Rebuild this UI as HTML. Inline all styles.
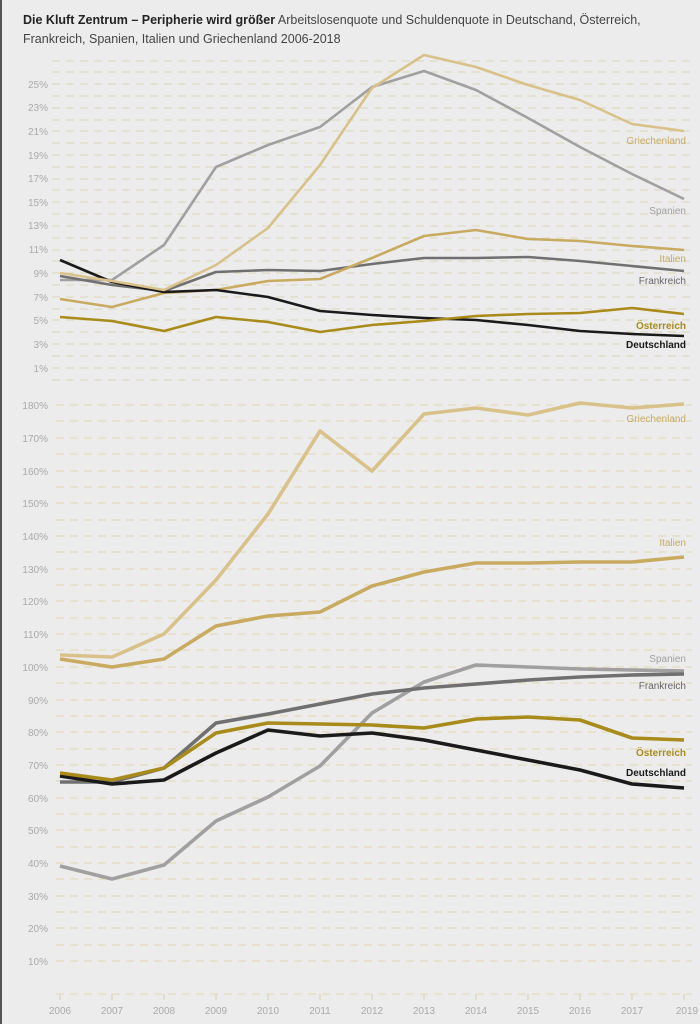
<!DOCTYPE html>
<html><head><meta charset="utf-8"><style>
body{margin:0;background:#ececec;}
svg{display:block;font-family:"Liberation Sans",sans-serif;}
</style></head><body>
<svg width="700" height="1024" viewBox="0 0 700 1024">
<rect width="700" height="1024" fill="#ececec"/>
<rect x="0" y="0" width="2" height="1024" fill="#555"/>
<text x="23" y="24" font-size="12.5" fill="#222"><tspan font-weight="bold">Die Kluft Zentrum – Peripherie wird größer</tspan><tspan fill="#444"> Arbeitslosenquote und Schuldenquote in Deutschand, Österreich,</tspan></text>
<text x="23" y="43" font-size="12.5" fill="#444">Frankreich, Spanien, Italien und Griechenland 2006-2018</text>
<g stroke="#dcd3b8" stroke-width="1" stroke-dasharray="8,6" fill="none">
<line x1="52" y1="61" x2="692" y2="61"/><line x1="52" y1="72" x2="692" y2="72"/>
<line x1="52" y1="84" x2="692" y2="84"/><line x1="52" y1="96" x2="692" y2="96"/>
<line x1="52" y1="108" x2="692" y2="108"/><line x1="52" y1="120" x2="692" y2="120"/>
<line x1="52" y1="131" x2="692" y2="131"/><line x1="52" y1="143" x2="692" y2="143"/>
<line x1="52" y1="155" x2="692" y2="155"/><line x1="52" y1="167" x2="692" y2="167"/>
<line x1="52" y1="179" x2="692" y2="179"/><line x1="52" y1="190" x2="692" y2="190"/>
<line x1="52" y1="202" x2="692" y2="202"/><line x1="52" y1="214" x2="692" y2="214"/>
<line x1="52" y1="226" x2="692" y2="226"/><line x1="52" y1="238" x2="692" y2="238"/>
<line x1="52" y1="250" x2="692" y2="250"/><line x1="52" y1="261" x2="692" y2="261"/>
<line x1="52" y1="273" x2="692" y2="273"/><line x1="52" y1="285" x2="692" y2="285"/>
<line x1="52" y1="297" x2="692" y2="297"/><line x1="52" y1="309" x2="692" y2="309"/>
<line x1="52" y1="320" x2="692" y2="320"/><line x1="52" y1="332" x2="692" y2="332"/>
<line x1="52" y1="344" x2="692" y2="344"/><line x1="52" y1="356" x2="692" y2="356"/>
<line x1="52" y1="368" x2="692" y2="368"/><line x1="52" y1="380" x2="692" y2="380"/>
</g>
<g stroke="#e2d6b0" stroke-width="1" stroke-dasharray="8,6" fill="none">
<line x1="56" y1="405" x2="692" y2="405"/><line x1="56" y1="421" x2="692" y2="421"/>
<line x1="56" y1="438" x2="692" y2="438"/><line x1="56" y1="454" x2="692" y2="454"/>
<line x1="56" y1="471" x2="692" y2="471"/><line x1="56" y1="487" x2="692" y2="487"/>
<line x1="56" y1="503" x2="692" y2="503"/><line x1="56" y1="520" x2="692" y2="520"/>
<line x1="56" y1="536" x2="692" y2="536"/><line x1="56" y1="552" x2="692" y2="552"/>
<line x1="56" y1="569" x2="692" y2="569"/><line x1="56" y1="585" x2="692" y2="585"/>
<line x1="56" y1="601" x2="692" y2="601"/><line x1="56" y1="618" x2="692" y2="618"/>
<line x1="56" y1="634" x2="692" y2="634"/><line x1="56" y1="650" x2="692" y2="650"/>
<line x1="56" y1="667" x2="692" y2="667"/><line x1="56" y1="683" x2="692" y2="683"/>
<line x1="56" y1="700" x2="692" y2="700"/><line x1="56" y1="716" x2="692" y2="716"/>
<line x1="56" y1="732" x2="692" y2="732"/><line x1="56" y1="749" x2="692" y2="749"/>
<line x1="56" y1="765" x2="692" y2="765"/><line x1="56" y1="781" x2="692" y2="781"/>
<line x1="56" y1="798" x2="692" y2="798"/><line x1="56" y1="814" x2="692" y2="814"/>
<line x1="56" y1="830" x2="692" y2="830"/><line x1="56" y1="847" x2="692" y2="847"/>
<line x1="56" y1="863" x2="692" y2="863"/><line x1="56" y1="879" x2="692" y2="879"/>
<line x1="56" y1="896" x2="692" y2="896"/><line x1="56" y1="912" x2="692" y2="912"/>
<line x1="56" y1="928" x2="692" y2="928"/><line x1="56" y1="945" x2="692" y2="945"/>
<line x1="56" y1="961" x2="692" y2="961"/><line x1="56" y1="994" x2="692" y2="994"/>
</g>
<g stroke="#d8cfb0" stroke-width="1">
<line x1="60" y1="994" x2="60" y2="1000"/><line x1="112" y1="994" x2="112" y2="1000"/><line x1="164" y1="994" x2="164" y2="1000"/><line x1="216" y1="994" x2="216" y2="1000"/><line x1="268" y1="994" x2="268" y2="1000"/><line x1="320" y1="994" x2="320" y2="1000"/><line x1="372" y1="994" x2="372" y2="1000"/><line x1="424" y1="994" x2="424" y2="1000"/><line x1="476" y1="994" x2="476" y2="1000"/><line x1="528" y1="994" x2="528" y2="1000"/><line x1="580" y1="994" x2="580" y2="1000"/><line x1="632" y1="994" x2="632" y2="1000"/><line x1="684" y1="994" x2="684" y2="1000"/>
</g>
<g font-size="10" fill="#aaa" text-anchor="end">
<text x="48" y="88">25%</text><text x="48" y="111">23%</text><text x="48" y="135">21%</text><text x="48" y="159">19%</text><text x="48" y="182">17%</text><text x="48" y="206">15%</text><text x="48" y="229">13%</text><text x="48" y="253">11%</text><text x="48" y="277">9%</text><text x="48" y="301">7%</text><text x="48" y="324">5%</text><text x="48" y="348">3%</text><text x="48" y="372">1%</text>
<text x="48" y="409">180%</text><text x="48" y="442">170%</text><text x="48" y="475">160%</text><text x="48" y="507">150%</text><text x="48" y="540">140%</text><text x="48" y="573">130%</text><text x="48" y="605">120%</text><text x="48" y="638">110%</text><text x="48" y="671">100%</text><text x="48" y="704">90%</text><text x="48" y="736">80%</text><text x="48" y="769">70%</text><text x="48" y="802">60%</text><text x="48" y="834">50%</text><text x="48" y="867">40%</text><text x="48" y="900">30%</text><text x="48" y="932">20%</text><text x="48" y="965">10%</text>
</g>
<g font-size="10" fill="#aaa" text-anchor="middle">
<text x="60" y="1014">2006</text><text x="112" y="1014">2007</text><text x="164" y="1014">2008</text><text x="216" y="1014">2009</text><text x="268" y="1014">2010</text><text x="320" y="1014">2011</text><text x="372" y="1014">2012</text><text x="424" y="1014">2013</text><text x="476" y="1014">2014</text><text x="528" y="1014">2015</text><text x="580" y="1014">2016</text><text x="632" y="1014">2017</text><text x="687" y="1014">2019</text>
</g>
<g fill="none" stroke-width="2.6" stroke-linejoin="round">
<polyline stroke="#a0a0a0" points="60,280 112,280 164,245 216,167 268,145 320,127 372,87 424,71 476,90 528,118 580,147 632,174 684,199"/>
<polyline stroke="#707070" points="60,276 112,285 164,291 216,272 268,270 320,271 372,264 424,258 476,258 528,257 580,261 632,266 684,271"/>
<polyline stroke="#c8aa60" points="60,299 112,307 164,293 216,290 268,281 320,279 372,258 424,236 476,230 528,239 580,241 632,246 684,250"/>
<polyline stroke="#1a1a1a" points="60,260 112,282 164,292 216,290 268,297 320,311 372,315 424,318 476,320 528,325 580,331 632,334 684,336"/>
<polyline stroke="#a88b1a" points="60,317 112,321 164,331 216,317 268,322 320,332 372,325 424,321 476,316 528,314 580,313 632,308 684,314"/>
<polyline stroke="#d9c28a" points="60,273 112,281 164,290 216,265 268,228 320,165 372,88 424,55 476,67 528,85 580,100 632,124 684,131"/>
</g>
<g fill="none" stroke-width="3.6" stroke-linejoin="round">
<polyline stroke="#a0a0a0" points="60,866 112,879 164,865 216,821 268,797 320,766 372,713 424,682 476,665 528,667 580,669 632,670 684,671"/>
<polyline stroke="#707070" points="60,782 112,782 164,768 216,723 268,714 320,704 372,694 424,688 476,684 528,680 580,677 632,675 684,674"/>
<polyline stroke="#1a1a1a" points="60,776 112,784 164,780 216,753 268,730 320,736 372,733 424,740 476,750 528,760 580,770 632,784 684,788"/>
<polyline stroke="#a88b1a" points="60,773 112,780 164,768 216,733 268,723 320,724 372,725 424,728 476,719 528,717 580,720 632,738 684,740"/>
<polyline stroke="#c8aa60" points="60,659 112,667 164,659 216,626 268,616 320,612 372,586 424,572 476,563 528,563 580,562 632,562 684,557"/>
<polyline stroke="#d9c28a" points="60,655 112,657 164,634 216,580 268,514 320,431 372,471 424,414 476,408 528,415 580,403 632,408 684,404"/>
</g>
<g font-size="10" text-anchor="end">
<text x="686" y="144" fill="#c8aa60">Griechenland</text>
<text x="686" y="214" fill="#a0a0a0">Spanien</text>
<text x="686" y="262" fill="#c8aa60">Italien</text>
<text x="686" y="284" fill="#666">Frankreich</text>
<text x="686" y="329" fill="#a88b1a" font-weight="bold">Österreich</text>
<text x="686" y="348" fill="#1a1a1a" font-weight="bold">Deutschland</text>
<text x="686" y="422" fill="#c8aa60">Griechenland</text>
<text x="686" y="546" fill="#c8aa60">Italien</text>
<text x="686" y="662" fill="#a0a0a0">Spanien</text>
<text x="686" y="689" fill="#666">Frankreich</text>
<text x="686" y="756" fill="#a88b1a" font-weight="bold">Österreich</text>
<text x="686" y="776" fill="#1a1a1a" font-weight="bold">Deutschland</text>
</g>
</svg>
</body></html>
